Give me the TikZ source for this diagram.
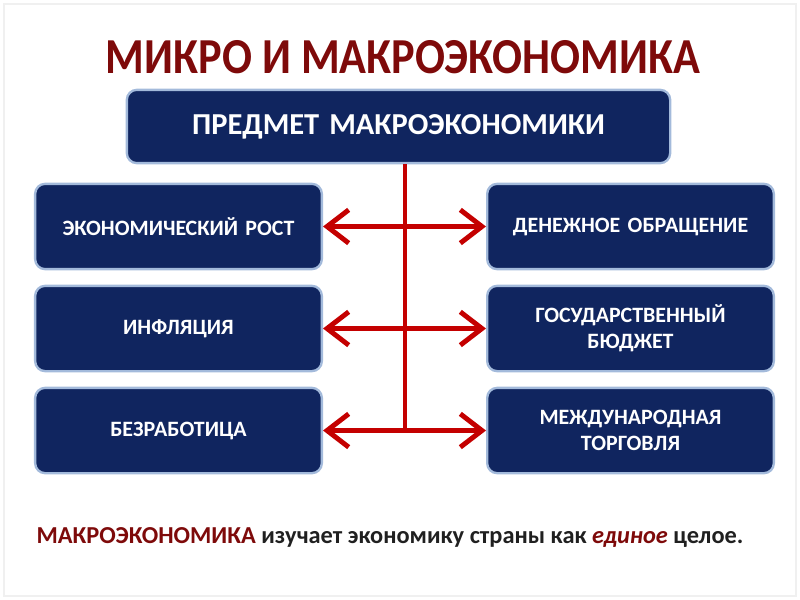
\documentclass[tikz,border=0pt]{standalone}
\usepackage{fontspec}
\setmainfont{Carlito}
\newfontfamily\narrowfont[FakeStretch=0.88]{Carlito}
\usepackage{tikz}
\usetikzlibrary{positioning, arrows.meta}

\definecolor{boxnavy}{HTML}{10255F}
\definecolor{boxrim}{HTML}{A3BADB}
\definecolor{linkred}{HTML}{C40000}
\definecolor{titlered}{HTML}{7E0A0A}
\definecolor{bodygray}{HTML}{202020}

\begin{document}
\begin{tikzpicture}[x=0.3mm, y=-0.3mm, node distance=4.3mm]
    \tikzstyle{navyblock} = [rectangle, draw=boxrim, line width=2pt, fill=boxnavy, text=white, font=\bfseries\fontsize{18.7}{22.5}\selectfont, text width=82mm, align=center, rounded corners=3mm, minimum width=86mm, minimum height=25.6mm]
    \tikzstyle{headblock} = [navyblock, font=\bfseries\fontsize{26}{30}\selectfont, text width=155mm, minimum width=163mm, minimum height=22mm]
    \tikzstyle{link} = [draw=linkred, line width=4.2pt]
    \tikzstyle{arrow} = [link, {Straight Barb[length=6.5mm, width=10mm]}-{Straight Barb[length=6.5mm, width=10mm]}]

    \useasboundingbox (0,0) rectangle (800,600);
    \draw[gray!12, line width=1pt] (4,4) rectangle (796,596);

    \node [font=\narrowfont\bfseries\fontsize{43}{46}\selectfont, text=titlered] (title) at (403,57) {МИКРО И МАКРОЭКОНОМИКА};
    \node [headblock] (subject) at (398.5,126.5) {ПРЕДМЕТ МАКРОЭКОНОМИКИ};

    \node [navyblock] (growth) at (178.5,226.5) {ЭКОНОМИЧЕСКИЙ РОСТ};
    \node [navyblock, below=of growth] (inflation) {ИНФЛЯЦИЯ};
    \node [navyblock, below=of inflation] (unemployment) {БЕЗРАБОТИЦА};

    \node [navyblock, right=48.9mm of growth] (money) {ДЕНЕЖНОЕ ОБРАЩЕНИЕ};
    \node [navyblock, right=48.9mm of inflation] (budget) {ГОСУДАРСТВЕННЫЙ\\БЮДЖЕТ};
    \node [navyblock, right=48.9mm of unemployment] (trade) {МЕЖДУНАРОДНАЯ\\ТОРГОВЛЯ};

    \coordinate (spine) at (405,0);
    \draw [link] (spine |- subject.south) -- (spine |- unemployment.east);
    \draw [arrow] (growth) -- (money);
    \draw [arrow] (inflation) -- (budget);
    \draw [arrow] (unemployment) -- (trade);

    \node [font=\bfseries\fontsize{20.8}{24}\selectfont, text=bodygray] (note) at (390,537)
        {\textcolor{titlered}{МАКРОЭКОНОМИКА} изучает экономику страны как \textcolor{titlered}{\itshape единое} целое.};
\end{tikzpicture}
\end{document}
